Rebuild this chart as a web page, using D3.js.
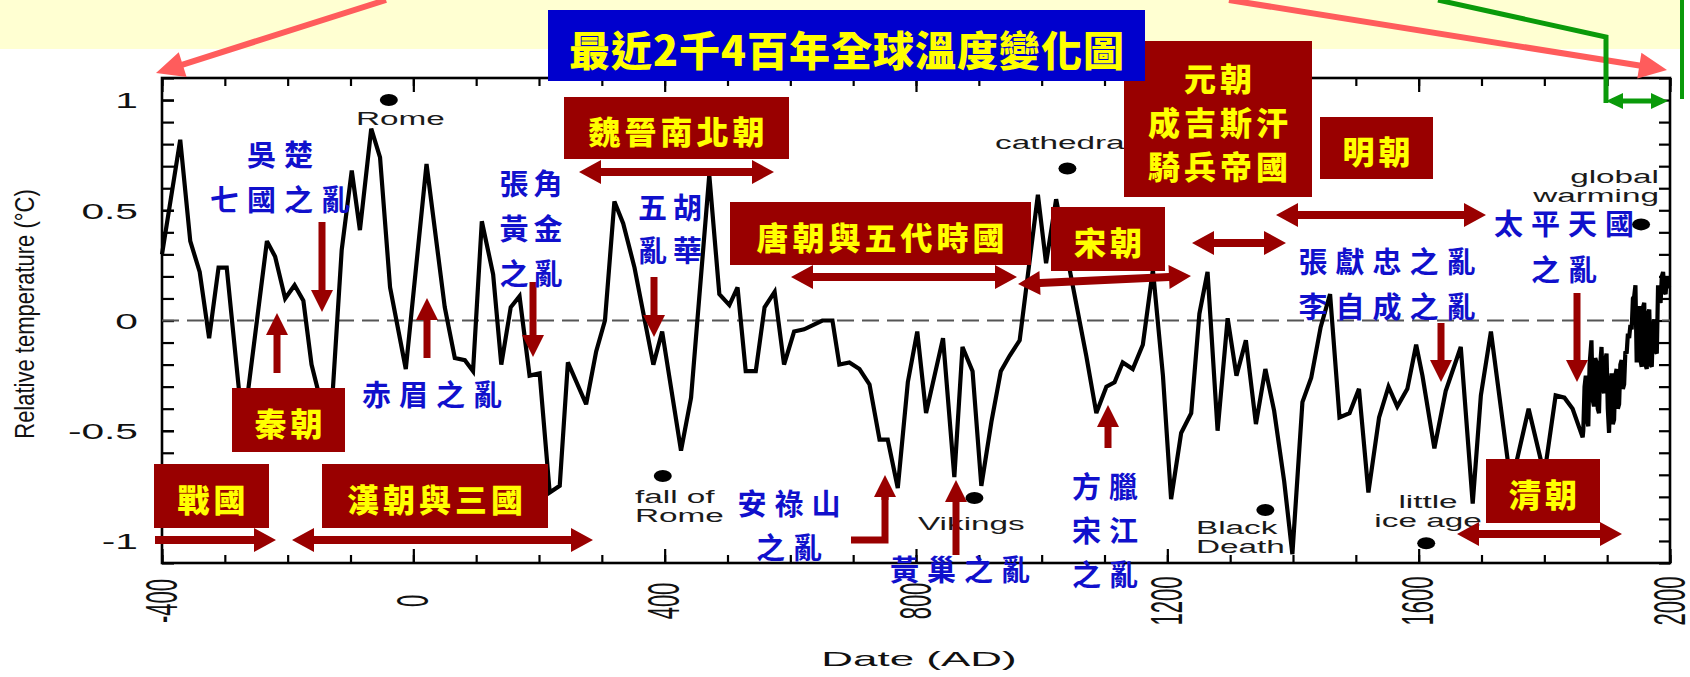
<!DOCTYPE html>
<html>
<head>
<meta charset="utf-8">
<script src="https://cdn.jsdelivr.net/npm/d3@7"></script>
<style>
  html, body { margin: 0; padding: 0; background: #ffffff; }
  svg { display: block; }
</style>
</head>
<body>
<svg id="chart" width="1690" height="677"></svg>
<script>
// ---------------------------------------------------------------
// Temperature anomaly (°C), proxy reconstruction -400 .. 1861 AD
// ---------------------------------------------------------------
const proxyYears = [-400,-371,-355,-340,-325,-310,-297,-271,-233,-220,-204,-189,-175,-162,-148,-130,
  -114,-98,-85,-67,-53,-37,-12,21,50,66,82,95,109,127,140,155,169,185,201,217,233,246,275,291,305,
  320,334,352,382,396,426,442,471,487,503,516,529,545,559,575,590,606,622,651,667,678,694,710,726,
  742,755,771,787,802,816,843,861,874,890,904,920,935,949,965,994,1007,1023,1071,1087,1103,1116,
  1129,1145,1161,1177,1193,1206,1222,1238,1251,1264,1280,1296,1310,1325,1341,1356,1370,1386,1399,
  1415,1429,1444,1459,1474,1490,1505,1520,1537,1552,1566,1582,1596,1606,1625,1643,1667,1686,1699,
  1715,1747,1775,1800,1818,1832,1845,1861];
const proxyTemps = [0.30,0.82,0.36,0.22,-0.08,0.24,0.24,-0.50,0.36,0.29,0.10,0.16,0.09,-0.20,-0.36,-0.40,
  0.32,0.68,0.41,0.87,0.74,0.15,-0.22,0.71,0.06,-0.17,-0.18,-0.23,0.45,0.21,-0.20,0.06,0.11,-0.25,-0.24,-0.78,-0.75,-0.19,-0.38,-0.14,0.00,
  0.54,0.44,0.24,-0.20,-0.05,-0.59,-0.35,0.66,0.12,0.07,0.15,-0.23,-0.23,0.06,0.13,-0.20,-0.05,-0.04,0.00,0.00,-0.20,-0.19,-0.22,-0.29,
  -0.54,-0.54,-0.76,-0.28,-0.05,-0.42,-0.08,-0.71,-0.12,-0.23,-0.75,-0.46,-0.23,-0.16,-0.09,0.57,0.26,0.55,-0.16,-0.42,-0.30,-0.28,
  -0.19,-0.22,-0.11,0.23,-0.25,-0.81,-0.51,-0.42,0.03,0.22,-0.50,0.01,-0.25,-0.09,-0.47,-0.22,-0.41,-0.73,-1.06,
  -0.37,-0.26,-0.03,0.12,-0.44,-0.42,-0.31,-0.78,-0.44,-0.30,-0.39,-0.31,-0.11,-0.25,-0.58,-0.32,-0.12,-0.83,-0.34,
  -0.05,-0.75,-0.40,-0.70,-0.34,-0.35,-0.40,-0.53];

// Instrumental-era values 1862 .. 1999
const recentYears = [1862,1864,1866,1868,1870,1872,1875,1877,1879,1881,1883,1885,1887,1889,1891,1893,1895,
  1897,1899,1901,1903,1905,1907,1909,1911,1913,1915,1917,1919,1921,1923,1925,1927,1929,1931,1933,1935,
  1937,1939,1941,1943,1945,1947,1949,1951,1953,1955,1957,1959,1961,1963,1965,1967,1969,1971,1973,1975,
  1977,1979,1981,1983,1985,1987,1989,1991,1993,1995,1997,1999];
const recentTemps = [-0.50,-0.30,-0.25,-0.45,-0.48,-0.20,-0.09,-0.36,-0.39,-0.17,-0.19,-0.40,-0.42,-0.20,-0.12,-0.30,-0.33,
  -0.18,-0.15,-0.40,-0.51,-0.30,-0.24,-0.47,-0.45,-0.25,-0.22,-0.40,-0.38,-0.20,-0.18,-0.31,-0.29,-0.14,-0.15,-0.06,-0.08,
  -0.02,-0.04,0.10,0.11,0.16,-0.19,0.02,0.065,-0.18,-0.21,0.06,0.08,-0.20,-0.22,0.03,0.05,-0.20,-0.21,-0.02,0.005,
  -0.14,-0.15,0.16,0.10,0.08,0.20,0.22,0.13,0.12,0.20,0.15,0.16];

// Axis tick labels
const xTicks = [-400, 0, 400, 800, 1200, 1600, 2000];
const yTicks = [-1, -0.5, 0, 0.5, 1];

// Marked historical events on the curve
const eventNames  = ["Rome", "cathedrals", "fall of Rome", "Vikings", "Black Death", "little ice age", "global warming"];
const eventYears  = [-39, 1041, 397, 893, 1356, 1612, 1954];
const eventLevels = [1.0, 0.69, -0.705, -0.805, -0.86, -1.01, 0.436];

// ---------------------------------------------------------------
const svg = d3.select("#chart");
const LATIN = "'Liberation Sans', Arial, Helvetica, sans-serif";
const CJK = "'Noto Sans CJK TC','Noto Sans CJK SC','Noto Sans CJK JP',sans-serif";
const DARKRED = "#990000";
const BLUE = "#1010CC";
const plot = { left: 162, right: 1670, top: 78, bottom: 563 };

const x = d3.scaleLinear().domain([-400, 2000]).range([plot.left, plot.right]);
const y = d3.scaleLinear().domain([-1.1, 1.1]).range([plot.bottom, plot.top]);

// pale band behind the top decorations
svg.append("rect").attr("x", 0).attr("y", 0).attr("width", 1680).attr("height", 49).attr("fill", "#FFFFD2");

// ---------------- axes (ticks point inward) ----------------
function styleAxis(g) {
  g.select(".domain").remove();
  g.selectAll("line").attr("stroke", "#000").attr("stroke-width", 2.2);
}
const minorX = d3.range(-400, 2001, 100);
const minorY = d3.range(-11, 12).map(i => i / 10);

svg.append("g").attr("transform", `translate(0,${plot.bottom})`)
  .call(d3.axisBottom(x).tickValues(minorX).tickSize(-8).tickFormat("")).call(styleAxis);
const gxb = svg.append("g").attr("transform", `translate(0,${plot.bottom})`)
  .call(d3.axisBottom(x).tickValues(xTicks).tickSize(-14).tickFormat(d => String(d))).call(styleAxis);
gxb.selectAll("text")
  .attr("y", null).attr("dy", null)
  .attr("transform", "translate(-1,38) scale(2,1) rotate(-90)")
  .attr("text-anchor", "middle").attr("dominant-baseline", "central")
  .attr("font-family", LATIN).attr("font-size", 22).attr("fill", "#111");

svg.append("g").attr("transform", `translate(0,${plot.top})`)
  .call(d3.axisTop(x).tickValues(minorX).tickSize(-8).tickFormat("")).call(styleAxis);
svg.append("g").attr("transform", `translate(0,${plot.top})`)
  .call(d3.axisTop(x).tickValues(xTicks).tickSize(-14).tickFormat("")).call(styleAxis);

svg.append("g").attr("transform", `translate(${plot.left},0)`)
  .call(d3.axisLeft(y).tickValues(minorY).tickSize(-12).tickFormat("")).call(styleAxis);
const gyMaj = svg.append("g").attr("transform", `translate(${plot.left},0)`)
  .call(d3.axisLeft(y).tickValues(yTicks).tickSize(-12).tickFormat(d => String(d))).call(styleAxis);
gyMaj.selectAll("text")
  .attr("x", null).attr("dy", null)
  .attr("transform", "translate(-24,0) scale(1.85,1)")
  .attr("text-anchor", "end").attr("dominant-baseline", "central")
  .attr("font-family", LATIN).attr("font-size", 22).attr("fill", "#111");

svg.append("g").attr("transform", `translate(${plot.right},0)`)
  .call(d3.axisRight(y).tickValues(minorY).tickSize(-11).tickFormat("")).call(styleAxis);

// frame
svg.append("rect")
  .attr("x", plot.left).attr("y", plot.top)
  .attr("width", plot.right - plot.left).attr("height", plot.bottom - plot.top)
  .attr("fill", "none").attr("stroke", "#000").attr("stroke-width", 2.6);

// axis titles
svg.append("text")
  .attr("transform", "translate(34,314) scale(1.28,1) rotate(-90)")
  .attr("text-anchor", "middle")
  .attr("font-family", LATIN).attr("font-size", 22).attr("fill", "#111")
  .text("Relative temperature (°C)");
svg.append("text")
  .attr("transform", "translate(919,666) scale(2.2,1)")
  .attr("text-anchor", "middle")
  .attr("font-family", LATIN).attr("font-size", 20).attr("fill", "#111")
  .text("Date (AD)");

// zero reference
svg.append("line")
  .attr("x1", plot.left).attr("x2", plot.right)
  .attr("y1", y(0)).attr("y2", y(0))
  .attr("stroke", "#555").attr("stroke-width", 2).attr("stroke-dasharray", "17,8");

// ---------------- temperature curve ----------------
const series = proxyYears.map((yr, i) => ({ yr, t: proxyTemps[i] }))
  .concat(recentYears.map((yr, i) => ({ yr, t: recentTemps[i] })));
svg.append("path")
  .datum(series)
  .attr("fill", "none").attr("stroke", "#000").attr("stroke-width", 4.2)
  .attr("stroke-linejoin", "miter").attr("stroke-miterlimit", 3)
  .attr("d", d3.line().x(d => x(d.yr)).y(d => y(d.t)));

// ---------------- event markers ----------------
const eventLabelLayout = [
  { lines: ["Rome"], x: 356, y: 125, anchor: "start" },
  { lines: ["cathedrals"], x: 995, y: 149, anchor: "start" },
  { lines: ["fall of", "Rome"], x: 635, y: 503, anchor: "start" },
  { lines: ["Vikings"], x: 918, y: 530, anchor: "start" },
  { lines: ["Black", "Death"], x: 1196, y: 534, anchor: "start" },
  { lines: ["little", "ice age"], x: 1428, y: 508, anchor: "middle" },
  { lines: ["global", "warming"], x: 1659, y: 183, anchor: "end" }
];
eventNames.forEach((name, i) => {
  svg.append("ellipse")
    .attr("cx", x(eventYears[i])).attr("cy", y(eventLevels[i]))
    .attr("rx", 9).attr("ry", 6).attr("fill", "#000");
  const L = eventLabelLayout[i];
  L.lines.forEach((ln, k) => {
    svg.append("text")
      .attr("transform", `translate(${L.x},${L.y + k * 19}) scale(1.85,1)`)
      .attr("text-anchor", L.anchor)
      .attr("font-family", LATIN).attr("font-size", 18).attr("fill", "#1a1a1a")
      .text(ln);
  });
});

// ---------------- arrows ----------------
function arrowPath(x1, y1, x2, y2, o) {
  const dx = x2 - x1, dy = y2 - y1, len = Math.hypot(dx, dy);
  const ux = dx / len, uy = dy / len, nx = -uy, ny = ux;
  const w = o.shaft / 2, hw = o.headW / 2, hl = o.headL;
  const P = (t, s) => [x1 + ux * t + nx * s, y1 + uy * t + ny * s];
  const pts = [];
  if (o.double) pts.push(P(0, 0), P(hl, hw), P(hl, w)); else pts.push(P(0, w));
  pts.push(P(len - hl, w), P(len - hl, hw), P(len, 0), P(len - hl, -hw), P(len - hl, -w));
  if (o.double) pts.push(P(hl, -w), P(hl, -hw)); else pts.push(P(0, -w));
  return "M" + pts.map(p => p.join(",")).join("L") + "Z";
}
function arrow(x1, y1, x2, y2, o, color) {
  svg.append("path").attr("d", arrowPath(x1, y1, x2, y2, o)).attr("fill", color);
}
const hArrow = { shaft: 8, headW: 24, headL: 22 };
const vArrow = { shaft: 7, headW: 22, headL: 22 };

// ---------------- dynasty boxes ----------------
const boxLayout = [
  { lines: ["魏晉南北朝"], x: 564, y: 97, w: 225, h: 62 },
  { lines: ["唐朝與五代時國"], x: 730, y: 202, w: 301, h: 63 },
  { lines: ["宋朝"], x: 1051, y: 207, w: 114, h: 64 },
  { lines: ["元朝", "成吉斯汗", "騎兵帝國"], x: 1124, y: 41, w: 188, h: 156 },
  { lines: ["明朝"], x: 1320, y: 117, w: 113, h: 62 },
  { lines: ["秦朝"], x: 232, y: 388, w: 113, h: 64 },
  { lines: ["戰國"], x: 154, y: 464, w: 115, h: 64 },
  { lines: ["漢朝與三國"], x: 322, y: 464, w: 226, h: 64 },
  { lines: ["清朝"], x: 1486, y: 459, w: 114, h: 64 }
];
boxLayout.forEach(b => {
  svg.append("rect").attr("x", b.x).attr("y", b.y).attr("width", b.w).attr("height", b.h).attr("fill", DARKRED);
  const step = 44, n = b.lines.length;
  b.lines.forEach((ln, k) => {
    svg.append("text")
      .attr("x", b.x + b.w / 2 + 2).attr("y", b.y + b.h / 2 + (k - (n - 1) / 2) * step + 2)
      .attr("text-anchor", "middle").attr("dominant-baseline", "central")
      .attr("font-family", CJK).attr("font-weight", 900).attr("font-size", 32)
      .attr("letter-spacing", 4).attr("fill", "#FFFF00")
      .text(ln);
  });
});

// period arrows
arrow(579, 172, 774, 172, { ...hArrow, double: true }, DARKRED);
arrow(791, 277, 1017, 277, { ...hArrow, double: true }, DARKRED);
arrow(1018, 284, 1191, 276, { ...hArrow, double: true }, DARKRED);
arrow(1192, 243, 1286, 243, { ...hArrow, double: true }, DARKRED);
arrow(1276, 215, 1486, 215, { ...hArrow, double: true }, DARKRED);
arrow(155, 540, 276, 540, { ...hArrow, double: false }, DARKRED);
arrow(292, 540, 593, 540, { ...hArrow, double: true }, DARKRED);
arrow(1457, 534, 1622, 534, { ...hArrow, double: true }, DARKRED);

// event pointers
arrow(322, 222, 322, 312, vArrow, DARKRED);
arrow(277, 373, 277, 313, vArrow, DARKRED);
arrow(427, 358, 427, 298, vArrow, DARKRED);
arrow(533, 282, 533, 357, vArrow, DARKRED);
arrow(654, 277, 654, 337, vArrow, DARKRED);
arrow(956, 555, 956, 480, vArrow, DARKRED);
arrow(1108, 448, 1108, 405, vArrow, DARKRED);
arrow(1441, 323, 1441, 382, vArrow, DARKRED);
arrow(1577, 293, 1577, 382, vArrow, DARKRED);
// bent pointer
svg.append("path").attr("d", "M851,540 L885,540 L885,495")
  .attr("fill", "none").attr("stroke", DARKRED).attr("stroke-width", 7).attr("stroke-linejoin", "miter");
arrow(885, 500, 885, 475, vArrow, DARKRED);

// ---------------- rebellion labels ----------------
const revoltLayout = [
  { lines: ["吳楚", "七國之亂"], x: 280, y: 153, gap: 45, ls: 8 },
  { lines: ["赤眉之亂"], x: 432, y: 393, gap: 0, ls: 8 },
  { lines: ["張角", "黃金", "之亂"], x: 531, y: 182, gap: 45, ls: 5 },
  { lines: ["五胡", "亂華"], x: 670, y: 206, gap: 43, ls: 6 },
  { lines: ["安祿山", "之亂"], x: 789, y: 502, gap: 44, ls: 8 },
  { lines: ["黃巢之亂"], x: 960, y: 568, gap: 0, ls: 8 },
  { lines: ["方臘", "宋江", "之亂"], x: 1105, y: 485, gap: 44, ls: 8 },
  { lines: ["張獻忠之亂", "李自成之亂"], x: 1387, y: 260, gap: 45, ls: 8 },
  { lines: ["太平天國", "之亂"], x: 1564, y: 222, gap: 46, ls: 8 }
];
revoltLayout.forEach(r => {
  r.lines.forEach((ln, k) => {
    svg.append("text")
      .attr("x", r.x + r.ls / 2).attr("y", r.y + k * r.gap)
      .attr("text-anchor", "middle").attr("dominant-baseline", "central")
      .attr("font-family", CJK).attr("font-weight", 700).attr("font-size", 29)
      .attr("letter-spacing", r.ls).attr("fill", BLUE)
      .text(ln);
  });
});

// ---------------- title ----------------
svg.append("rect").attr("x", 548).attr("y", 10).attr("width", 597).attr("height", 71).attr("fill", "#0000CD");
svg.append("text")
  .attr("x", 847).attr("y", 48)
  .attr("text-anchor", "middle").attr("dominant-baseline", "central")
  .attr("font-family", CJK).attr("font-weight", 900).attr("font-size", 41)
  .attr("letter-spacing", 1).attr("fill", "#FFFF00")
  .text("最近2千4百年全球溫度變化圖");

// ---------------- range pointers along the top ----------------
const SALMON = "#FF5C5C";
arrow(386, 0, 156, 73, { shaft: 6, headW: 26, headL: 28 }, SALMON);
arrow(1229, 0, 1667, 70, { shaft: 6, headW: 26, headL: 28 }, SALMON);

const GREEN = "#0A9A0A";
svg.append("path").attr("d", "M1438,0 L1606,37 L1606,103")
  .attr("fill", "none").attr("stroke", GREEN).attr("stroke-width", 5).attr("stroke-linejoin", "miter");
arrow(1606, 101, 1668, 101, { shaft: 5, headW: 16, headL: 17, double: true }, GREEN);
svg.append("line").attr("x1", 1682).attr("x2", 1682).attr("y1", 0).attr("y2", 99)
  .attr("stroke", GREEN).attr("stroke-width", 4);
</script>
</body>
</html>
